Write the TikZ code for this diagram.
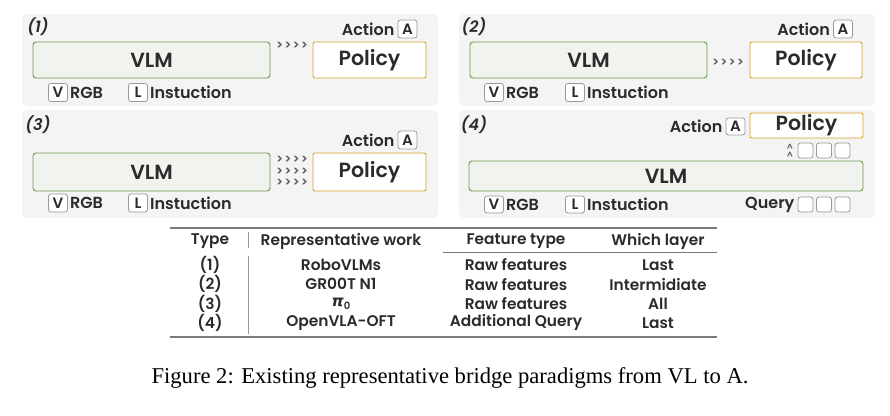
\documentclass[tikz,border=0pt]{standalone}
\usepackage{fontspec}
\setmainfont{Poppins}[UprightFont={* SemiBold},ItalicFont={* SemiBold Italic}]
\newfontfamily\capfont{Liberation Serif}
\newfontfamily\greekfont{DejaVu Sans}
\usetikzlibrary{positioning}
\definecolor{panelgray}{HTML}{F4F4F4}
\definecolor{vlmfill}{HTML}{F1F3EE}
\definecolor{vlmgreen}{HTML}{6B9A4B}
\definecolor{policygold}{HTML}{D6A42A}
\definecolor{tokgray}{HTML}{999999}
\definecolor{txt}{HTML}{2B2B2B}
\definecolor{rulegray}{HTML}{7A7A7A}
\newcommand{\fsz}[1]{\fontsize{#1}{#1}\selectfont}
\newcommand{\chev}{{>}\kern1.2pt{>}\kern1.2pt{>}\kern1.2pt{>}}
\tikzset{
  panel/.style={fill=panelgray,rounded corners=6pt},
  vlmbox/.style={draw=vlmgreen,fill=vlmfill,rounded corners=3pt,line width=0.9pt,
    inner sep=0pt,font=\fsz{20.5},text=txt},
  policybox/.style={draw=policygold,fill=white,rounded corners=2pt,line width=0.9pt,
    inner sep=0pt,font=\fsz{20.5},text=txt},
  tokbox/.style={draw=tokgray,fill=white,rounded corners=2.5pt,line width=0.8pt,
    minimum width=19pt,minimum height=18pt,inner sep=0pt,font=\fsz{15},text=txt},
  qbox/.style={draw=tokgray,fill=white,rounded corners=2.5pt,line width=0.8pt,
    minimum width=15pt,minimum height=15pt,inner sep=0pt},
  lab/.style={inner sep=0pt,font=\fsz{16},text=txt},
  tag/.style={inner sep=0pt,font=\fsz{16}\itshape,text=txt},
  flow/.style={inner sep=0pt,font=\fsz{12.5},text=txt!75},
  cell/.style={inner sep=0pt,font=\fsz{15.4},text=txt},
}
\begin{document}
\begin{tikzpicture}[x=1pt,y=-1pt]
\useasboundingbox (0,0) rectangle (890,415);
% panels
\fill[panel] (22,14) rectangle (438,106);
\fill[panel] (459,14) rectangle (875,106);
\fill[panel] (22,110) rectangle (438,218);
\fill[panel] (459,110) rectangle (875,218);
\node[tag] (t1) at (38,27) {(1)};
\node[tag] (t2) at (474,27) {(2)};
\node[tag] (t3) at (38,125) {(3)};
\node[tag] (t4) at (474,125) {(4)};

% (1)
\node[vlmbox,minimum width=237pt,minimum height=36pt] (vlm1) at (151.5,60) {VLM};
\node[policybox,minimum width=113pt,minimum height=36pt] (pol1) at (369.5,60) {Policy};
\node[tokbox] (a1) at (407.5,29) {A};
\node[lab,left=3pt of a1] (act1) {Action};
\node[flow] (f1) at (292,46) {\chev};
\node[tokbox] (v1) at (58,92.5) {V};
\node[lab,right=2pt of v1] (rgb1) {RGB};
\node[tokbox] (l1) at (138,92.5) {L};
\node[lab,right=2pt of l1] (ins1) {Instuction};

% (2)
\node[vlmbox,minimum width=237pt,minimum height=36pt] (vlm2) at (588.5,60) {VLM};
\node[policybox,minimum width=112pt,minimum height=36pt] (pol2) at (806,60) {Policy};
\node[tokbox] (a2) at (843,29) {A};
\node[lab,left=3pt of a2] (act2) {Action};
\node[flow] (f2) at (728,63) {\chev};
\node[tokbox] (v2) at (494,92.5) {V};
\node[lab,right=2pt of v2] (rgb2) {RGB};
\node[tokbox] (l2) at (575,92.5) {L};
\node[lab,right=2pt of l2] (ins2) {Instuction};

% (3)
\node[vlmbox,minimum width=237pt,minimum height=38pt] (vlm3) at (151.5,172) {VLM};
\node[policybox,minimum width=113pt,minimum height=38pt] (pol3) at (369.5,172) {Policy};
\node[tokbox] (a3) at (407.5,140) {A};
\node[lab,left=3pt of a3] (act3) {Action};
\foreach \y in {160,172,183} \node[flow] at (292,\y) {\chev};
\node[tokbox] (v3) at (58,203) {V};
\node[lab,right=2pt of v3] (rgb3) {RGB};
\node[tokbox] (l3) at (138,203) {L};
\node[lab,right=2pt of l3] (ins3) {Instuction};

% (4)
\node[policybox,minimum width=113pt,minimum height=25pt] (pol4) at (806.5,125.5) {Policy};
\node[tokbox,minimum height=17pt] (a4) at (735.5,126.5) {A};
\node[lab,left=3pt of a4] (act4) {Action};
\node[vlmbox,minimum width=394pt,minimum height=30pt] (vlm4) at (666,176) {VLM};
\foreach \x [count=\i] in {805.5,824,842.5}{
  \node[qbox] (up\i) at (\x,150.5) {};
  \node[qbox] (q\i) at (\x,204.5) {};
}
\node[flow,font=\fsz{9}] (c1) at (790,147) {\^{}};
\node[flow,font=\fsz{9}] (c2) at (790,155) {\^{}};
\node[lab,left=3pt of q1] (qry) {Query};
\node[tokbox,minimum height=17pt] (v4) at (494,204.5) {V};
\node[lab,right=2pt of v4] (rgb4) {RGB};
\node[tokbox,minimum height=17pt] (l4) at (575,204.5) {L};
\node[lab,right=2pt of l4] (ins4) {Instuction};

% table
\draw[rulegray,line width=1.6pt] (170,228) -- (717,228);
\draw[rulegray,line width=0.6pt] (443,252) -- (717,252);
\draw[rulegray,line width=1.6pt] (170,337) -- (717,337);
\draw[tokgray,line width=0.8pt] (248,232) -- (248,248) (248,256) -- (248,334);
\node[cell] (hT) at (210,241) {Type};
\node[cell] (hW) at (341,241) {Representative work};
\node[cell] (hF) at (516,241) {Feature type};
\node[cell] (hL) at (658,241) {Which layer};
\foreach \t/\w/\f/\l [count=\i] in {(1)/RoboVLMs/Raw features/Last,
  (2)/GR00T N1/Raw features/Intermidiate,
  (3)/{{\greekfont\bfseries\itshape π}\raisebox{-0.35ex}{\fsz{10}0}}/Raw features/All,
  (4)/OpenVLA-OFT/Additional Query/Last}{
  \pgfmathsetmacro\yy{265+(\i-1)*19.3}
  \node[cell] (rT\i) at (210,\yy) {\t};
  \node[cell] (rW\i) at (341,\yy) {\w};
  \node[cell] (rF\i) at (516,\yy) {\f};
  \node[cell] (rL\i) at (658,\yy) {\l};
}
\node[inner sep=0pt,font=\capfont\fsz{22.6}] (cap) at (450,378)
  {Figure 2: Existing representative bridge paradigms from VL to A.};
\end{tikzpicture}
\end{document}
